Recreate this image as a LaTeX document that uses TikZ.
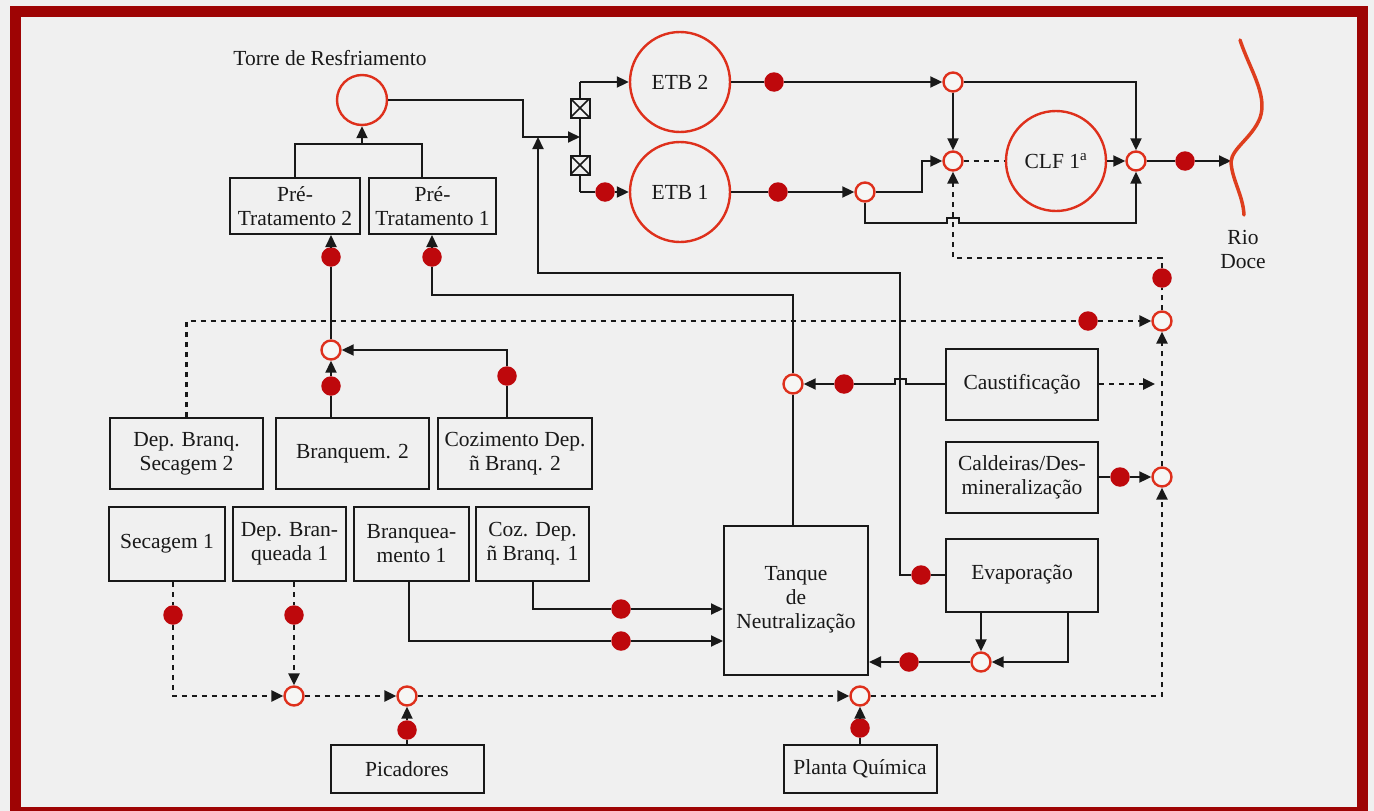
\documentclass[tikz,border=0pt]{standalone}
\usepackage{fontspec}
\setmainfont{Liberation Serif}
\usetikzlibrary{arrows.meta}
\definecolor{bg}{RGB}{240,240,240}
\definecolor{framec}{RGB}{158,4,4}
\definecolor{cred}{RGB}{222,48,28}
\definecolor{dred}{RGB}{190,8,12}
\definecolor{ink}{RGB}{25,25,25}
\definecolor{rivc}{RGB}{222,62,30}
\definecolor{ocfill}{RGB}{246,246,244}
\begin{document}
\begin{tikzpicture}[x=1pt,y=-1pt,
 every node/.style={font=\fontsize{21.5}{24}\selectfont, text=ink},
 box/.style={draw=ink, line width=2pt, align=center, inner sep=0pt},
 big/.style={circle, draw=cred, line width=2.4pt, minimum size=100pt, inner sep=0pt},
 oc/.style={circle, draw=cred, fill=ocfill, line width=2.4pt, minimum size=19pt, inner sep=0pt},
 rd/.style={circle, fill=dred, minimum size=19.5pt, inner sep=0pt},
 ln/.style={draw=ink, line width=2pt},
 arrowhd/.style={-{Triangle[length=12pt,width=11pt]}},
 arr/.style={ln, arrowhd},
 dsh/.style={draw=ink, line width=2.5pt, dash pattern=on 5pt off 5pt},
 valve/.style={draw=ink, fill=bg, line width=2pt, minimum size=19pt, inner sep=0pt,
   path picture={\draw[ink, line width=1.6pt] (path picture bounding box.south west) -- (path picture bounding box.north east) (path picture bounding box.north west) -- (path picture bounding box.south east);}}
]
\fill[bg] (0,0) rectangle (1374,811);
\useasboundingbox (0,0) rectangle (1374,811);
\draw[framec, line width=11pt] (15,11) rectangle (1362,812);

% nodes
\node (torrelbl) at (330,58) {Torre de Resfriamento};
\node[big, minimum size=50pt] (torre) at (362,100) {};
\node[box, minimum width=130pt, minimum height=56pt] (pt2) at (295,206) {Pré-\\Tratamento 2};
\node[box, minimum width=127pt, minimum height=56pt] (pt1) at (432.5,206) {Pré-\\Tratamento 1};
\node[big] (etb2) at (680,82) {ETB 2};
\node[big] (etb1) at (680,192) {ETB 1};
\node[big] (clf) at (1056,161) {CLF 1\textsuperscript{a}};
\node[oc] (c1) at (953,82) {};
\node[oc] (c2) at (953,161) {};
\node[oc] (c3) at (865,192) {};
\node[oc] (c4) at (1136,161) {};
\node[rd] (de1in) at (605,192) {};
\node[rd] (de2) at (774,82) {};
\node[rd] (de1) at (778,192) {};
\node[rd] (dout) at (1185,161) {};
\coordinate (river) at (1231,161);
\node[align=center] (rio) at (1243,249) {Rio\\Doce};
\node[oc] (c5) at (1162,321) {};
\node[rd] (dc5) at (1162,278) {};
\node[rd] (d321) at (1088,321) {};
\node[oc] (c6) at (1162,477) {};
\node[rd] (dcald) at (1120,477) {};
\node[box, minimum width=152pt, minimum height=71pt] (caust) at (1022,384) {Caustificação};
\node[box, minimum width=152pt, minimum height=71pt] (cald) at (1022,477) {Caldeiras/Des-\\mineralização};
\node[box, minimum width=152pt, minimum height=73pt] (evap) at (1022,575) {Evaporação};
\node[rd] (devap) at (921,575) {};
\node[box, minimum width=144pt, minimum height=149pt] (tanque) at (796,600) {Tanque\\de\\Neutralização};
\node[oc] (c7) at (793,384) {};
\node[rd] (dc7) at (844,384) {};
\node[oc] (c8) at (981,662) {};
\node[rd] (dc8) at (909,662) {};
\node[box, minimum width=153pt, minimum height=48pt] (planta) at (860,769) {Planta Química};
\node[oc] (c9) at (860,696) {};
\node[rd] (dplanta) at (860,728) {};
\node[box, minimum width=153pt, minimum height=48pt] (pic) at (407,769) {Picadores};
\node[oc] (c11) at (407,696) {};
\node[rd] (dpic) at (407,730) {};
\node[oc] (c10) at (294,696) {};
\node[rd] (dsec1) at (173,615) {};
\node[rd] (ddep1) at (294,615) {};
\node[box, minimum width=116pt, minimum height=74pt] (sec1) at (167,544) {Secagem 1};
\node[box, minimum width=113pt, minimum height=74pt] (dep1) at (289.5,544) {Dep. Bran-\\queada 1};
\node[box, minimum width=115pt, minimum height=74pt] (br1) at (411.5,544) {Branquea-\\mento 1};
\node[box, minimum width=113pt, minimum height=74pt] (coz1) at (532.5,544) {Coz. Dep.\\ñ Branq. 1};
\node[rd] (dbr1) at (621,641) {};
\node[rd] (dcoz1) at (621,609) {};
\node[box, minimum width=153pt, minimum height=71pt] (dep2) at (186.5,453.5) {Dep. Branq.\\Secagem 2};
\node[box, minimum width=153pt, minimum height=71pt] (br2) at (352.5,453.5) {Branquem. 2};
\node[box, minimum width=154pt, minimum height=71pt] (coz2) at (515,453.5) {Cozimento Dep.\\ñ Branq. 2};
\node[oc] (c12) at (331,350) {};
\node[rd] (dbr2) at (331,386) {};
\node[rd] (dcoz2) at (507,376) {};
\node[rd] (dpt2) at (331,257) {};
\node[rd] (dpt1) at (432,257) {};

% bend coordinates
\coordinate (tb) at (523,137);
\coordinate (vtop) at (580,82);
\coordinate (vmid) at (580,137);
\coordinate (vbot) at (580,192);
\coordinate (brL) at (295,144);
\coordinate (brR) at (422,144);
\coordinate (k1) at (793,295);
\coordinate (k2) at (900,273);
\coordinate (k3) at (538,137);
\coordinate (k5) at (922,192);
\coordinate (k6) at (953,258);
\coordinate (k4) at (1068,662);
\coordinate (k7) at (1155,384);
\coordinate (xbr1) at (409,641);
\coordinate (xcoz1) at (533,609);
\coordinate (bA) at (906,384);
\coordinate (bB) at (906,379);
\coordinate (bC) at (895,379);
\coordinate (bD) at (895,384);
\coordinate (jA) at (947,223);
\coordinate (jB) at (947,218);
\coordinate (jC) at (959,218);
\coordinate (jD) at (959,223);

% top connectors
\draw[arr] (torre.east) -| (tb) -- (vmid);
\draw[ln] (vtop) -- (vbot);
\draw[arr] (vtop) -- (etb2.west);
\draw[ln] (vbot) -- (de1in);
\draw[arr] (de1in) -- (etb1.west);
\node[valve] (v1) at (580,108) {};
\node[valve] (v2) at (580,165) {};
\draw[ln] (pt2.north) -- (brL) -- (brR) -- (brR |- pt1.north);
\draw[arr] (torre.south |- brL) -- (torre.south);
\draw[ln] (c12.north) -- (dpt2);
\draw[arr] (dpt2) -- (dpt2 |- pt2.south);
\draw[ln] (c7.north) -- (k1) -| (dpt1);
\draw[arr] (dpt1) -- (dpt1 |- pt1.south);

% middle
\draw[ln] (c7 |- tanque.north) -- (c7.south);
\draw[ln] (evap.west) -- (devap);
\draw[arr] (devap) -| (k2) -| (k3);
\draw[ln] (caust.west) -- (bA) -- (bB) -- (bC) -- (bD) -- (dc7);
\draw[arr] (dc7) -- (c7.east);
\draw[dsh, arrowhd] (caust.east) -- (k7);
\draw[ln] (cald.east) -- (dcald);
\draw[arr] (dcald) -- (c6.west);
\draw[dsh, arrowhd] (c6.north) -- (c5.south);
\draw[dsh] (c5.north) -- (dc5);
\draw[dsh, arrowhd] (dc5) |- (k6) -- (c2.south);
\draw[dsh] (dep2.north) |- (d321);
\draw[dsh, arrowhd] (d321) -- (c5.west);

% bottom
\draw[dsh] (sec1.south -| dsec1) -- (dsec1);
\draw[dsh, arrowhd] (dsec1) |- (c10.west);
\draw[dsh] (dep1.south -| ddep1) -- (ddep1);
\draw[dsh, arrowhd] (ddep1) -- (c10.north);
\draw[dsh, arrowhd] (c10.east) -- (c11.west);
\draw[dsh, arrowhd] (c11.east) -- (c9.west);
\draw[dsh, arrowhd] (c9.east) -| (c6.south);
\draw[ln] (pic.north) -- (dpic);
\draw[arr] (dpic) -- (c11.south);
\draw[ln] (planta.north) -- (dplanta);
\draw[arr] (dplanta) -- (c9.south);
\draw[ln] (br1.south -| xbr1) |- (dbr1);
\draw[arr] (dbr1) -- (dbr1 -| tanque.west);
\draw[ln] (coz1.south -| xcoz1) |- (dcoz1);
\draw[arr] (dcoz1) -- (dcoz1 -| tanque.west);
\draw[arr] (evap.south -| c8) -- (c8.north);
\draw[arr] (k4 |- evap.south) -- (k4) -- (c8.east);
\draw[ln] (c8.west) -- (dc8);
\draw[arr] (dc8) -- (dc8 -| tanque.east);
\draw[ln] (br2.north -| c12) -- (dbr2);
\draw[arr] (dbr2) -- (c12.south);
\draw[ln] (coz2.north -| dcoz2) -- (dcoz2);
\draw[arr] (dcoz2) |- (c12.east);

% ETB side
\draw[ln] (etb2.east) -- (de2);
\draw[arr] (de2) -- (c1.west);
\draw[ln] (etb1.east) -- (de1);
\draw[arr] (de1) -- (c3.west);
\draw[arr] (c3.east) -- (k5) |- (c2.west);
\draw[arr] (c1.south) -- (c2.north);
\draw[ln, dash pattern=on 5pt off 5pt] (c2.east) -- (clf.west);
\draw[arr] (clf.east) -- (c4.west);
\draw[arr] (c1.east) -| (c4.north);
\draw[arr] (c3.south) |- (jA) -- (jB) -- (jC) -- (jD) -| (c4.south);
\draw[ln] (c4.east) -- (dout);
\draw[arr] (dout) -- (river);

% river
\draw[rivc, line width=3.5pt, line cap=round] (1240,40) .. controls (1250,70) and (1268,95) .. (1260,118) .. controls (1252,138) and (1232,148) .. (1231,162) .. controls (1232,180) and (1243,195) .. (1244,215);
\end{tikzpicture}
\end{document}
